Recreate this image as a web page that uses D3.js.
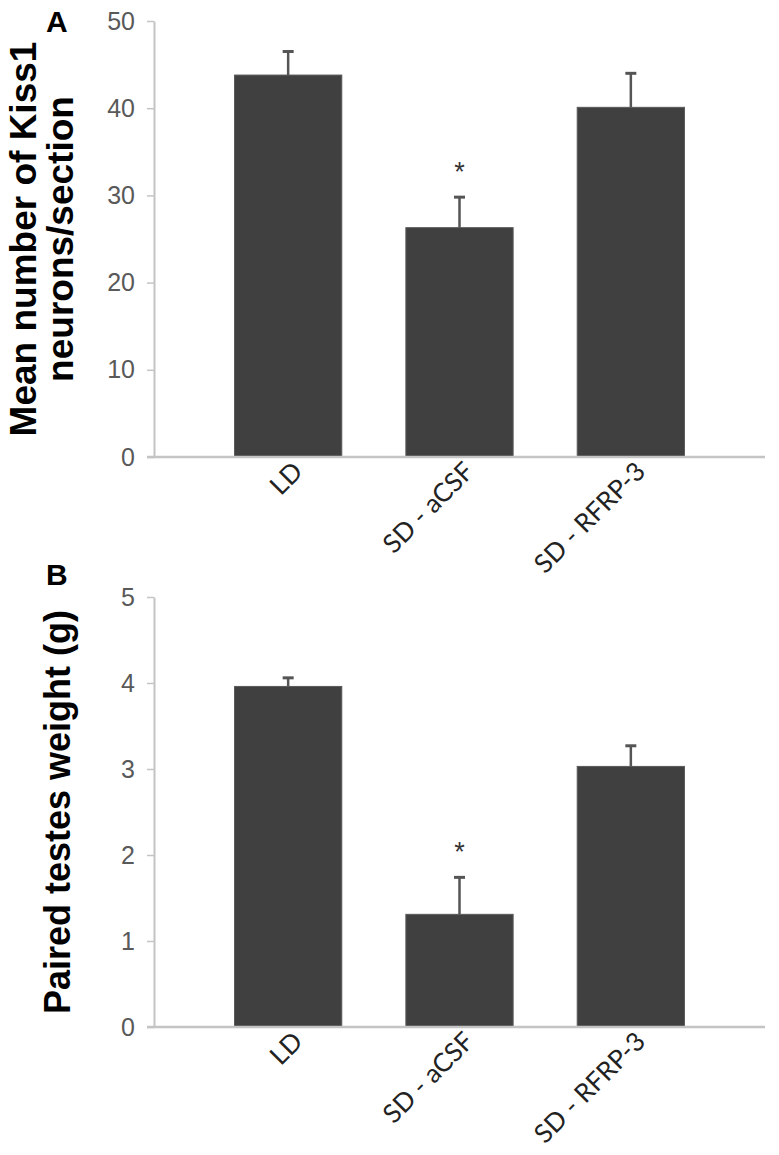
<!DOCTYPE html>
<html>
<head>
<meta charset="utf-8">
<script src="https://cdn.jsdelivr.net/npm/d3@7"></script>
<style>
  body { margin: 0; background: #fff; }
  svg { display: block; }
</style>
</head>
<body>
<div id="chart"></div>
<script>
// groups on the x axis (same for both panels)
const groups = ['LD', 'SD - aCSF', 'SD - RFRP-3'];

// panel A: Kiss1 neurons per section
const kissMeans = [43.8, 26.3, 40.1];
const kissErrors = [2.7, 3.5, 3.9];
const kissTicks = [0, 10, 20, 30, 40, 50];
const kissStars = ['', '*', ''];

// panel B: paired testes weight (g)
const testesMeans = [3.96, 1.31, 3.03];
const testesErrors = [0.10, 0.43, 0.24];
const testesTicks = [0, 1, 2, 3, 4, 5];
const testesStars = ['', '*', ''];

const W = 779, H = 1155;

const svg = d3.select('#chart').append('svg')
    .attr('width', W)
    .attr('height', H);

function drawPanel(cfg) {
    const g = svg.append('g');

    const x = d3.scaleBand()
        .domain(groups)
        .range([cfg.left, cfg.right])
        .paddingInner(0.374)
        .paddingOuter(0.47);

    const y = d3.scaleLinear()
        .domain([0, cfg.max])
        .range([cfg.bottom, cfg.top]);

    // y axis
    const yAxis = g.append('g')
        .attr('transform', `translate(${cfg.left},0)`)
        .call(d3.axisLeft(y)
            .tickValues(cfg.ticks)
            .tickFormat(d3.format('d'))
            .tickSize(7).tickSizeOuter(0).tickPadding(12));
    yAxis.select('.domain').attr('stroke', '#c4c4c4').attr('stroke-width', 2);
    yAxis.selectAll('.tick line').attr('stroke', '#c4c4c4').attr('stroke-width', 1.5);
    yAxis.selectAll('.tick text')
        .attr('fill', '#595959')
        .style('font-family', 'Liberation Sans, Arial, sans-serif')
        .style('font-size', '25px');

    // bars
    g.selectAll('.bar')
        .data(cfg.means)
        .enter().append('rect')
        .attr('class', 'bar')
        .attr('x', (d, i) => x(groups[i]))
        .attr('width', x.bandwidth())
        .attr('y', d => y(d))
        .attr('height', d => y(0) - y(d))
        .attr('fill', '#404040')
        .attr('stroke', '#5a5a5a')
        .attr('stroke-width', 1);

    // error bars (upper only)
    const err = g.selectAll('.err')
        .data(cfg.means)
        .enter().append('g')
        .attr('class', 'err');
    err.append('line')
        .attr('x1', (d, i) => x(groups[i]) + x.bandwidth() / 2)
        .attr('x2', (d, i) => x(groups[i]) + x.bandwidth() / 2)
        .attr('y1', d => y(d))
        .attr('y2', (d, i) => y(d + cfg.errors[i]))
        .attr('stroke', '#555')
        .attr('stroke-width', 2.5);
    err.append('line')
        .attr('x1', (d, i) => x(groups[i]) + x.bandwidth() / 2 - 5.5)
        .attr('x2', (d, i) => x(groups[i]) + x.bandwidth() / 2 + 5.5)
        .attr('y1', (d, i) => y(d + cfg.errors[i]))
        .attr('y2', (d, i) => y(d + cfg.errors[i]))
        .attr('stroke', '#555')
        .attr('stroke-width', 3);

    // significance stars
    g.selectAll('.star')
        .data(cfg.means)
        .enter().append('text')
        .attr('class', 'star')
        .attr('x', (d, i) => x(groups[i]) + x.bandwidth() / 2)
        .attr('y', (d, i) => y(d + cfg.errors[i]) - 16)
        .attr('text-anchor', 'middle')
        .attr('fill', '#333')
        .style('font-family', 'Liberation Sans, Arial, sans-serif')
        .style('font-size', '27px')
        .text((d, i) => cfg.stars[i]);

    // x axis line
    g.append('line')
        .attr('x1', cfg.left - 7)
        .attr('x2', cfg.right)
        .attr('y1', y(0))
        .attr('y2', y(0))
        .attr('stroke', '#c4c4c4')
        .attr('stroke-width', 2.5);

    // rotated group labels
    g.selectAll('.xlab')
        .data(groups)
        .enter().append('text')
        .attr('class', 'xlab')
        .attr('transform', d => `translate(${x(d) + x.bandwidth() / 2 + 16},${y(0) + 16}) rotate(-45)`)
        .attr('text-anchor', 'end')
        .attr('fill', '#222')
        .style('font-family', 'Lato, Open Sans, sans-serif')
        .style('font-size', '26px')
        .text(d => d);

    // y title
    const title = g.append('text')
        .attr('transform', `translate(${cfg.titleX},${(cfg.top + cfg.bottom) / 2}) rotate(-90)`)
        .attr('text-anchor', 'middle')
        .attr('fill', '#000')
        .style('font-family', 'Liberation Sans, Arial, sans-serif')
        .style('font-weight', 'bold')
        .style('font-size', cfg.titleSize + 'px');
    cfg.title.forEach((t, i) => {
        title.append('tspan')
            .attr('x', 0)
            .attr('dy', i === 0 ? 0 : 37)
            .text(t);
    });

    // panel letter
    g.append('text')
        .attr('x', 46)
        .attr('y', cfg.letterY)
        .attr('fill', '#000')
        .style('font-family', 'Liberation Sans, Arial, sans-serif')
        .style('font-weight', 'bold')
        .style('font-size', '30px')
        .text(cfg.letter);
}

drawPanel({
    letter: 'A', letterY: 32,
    title: ['Mean number of Kiss1', 'neurons/section'], titleX: 36, titleSize: 37,
    left: 154, right: 765, top: 21, bottom: 457,
    max: 50, ticks: kissTicks,
    means: kissMeans, errors: kissErrors, stars: kissStars
});

drawPanel({
    letter: 'B', letterY: 585,
    title: ['Paired testes weight (g)'], titleX: 70, titleSize: 36,
    left: 154, right: 765, top: 597, bottom: 1027,
    max: 5, ticks: testesTicks,
    means: testesMeans, errors: testesErrors, stars: testesStars
});
</script>
</body>
</html>
